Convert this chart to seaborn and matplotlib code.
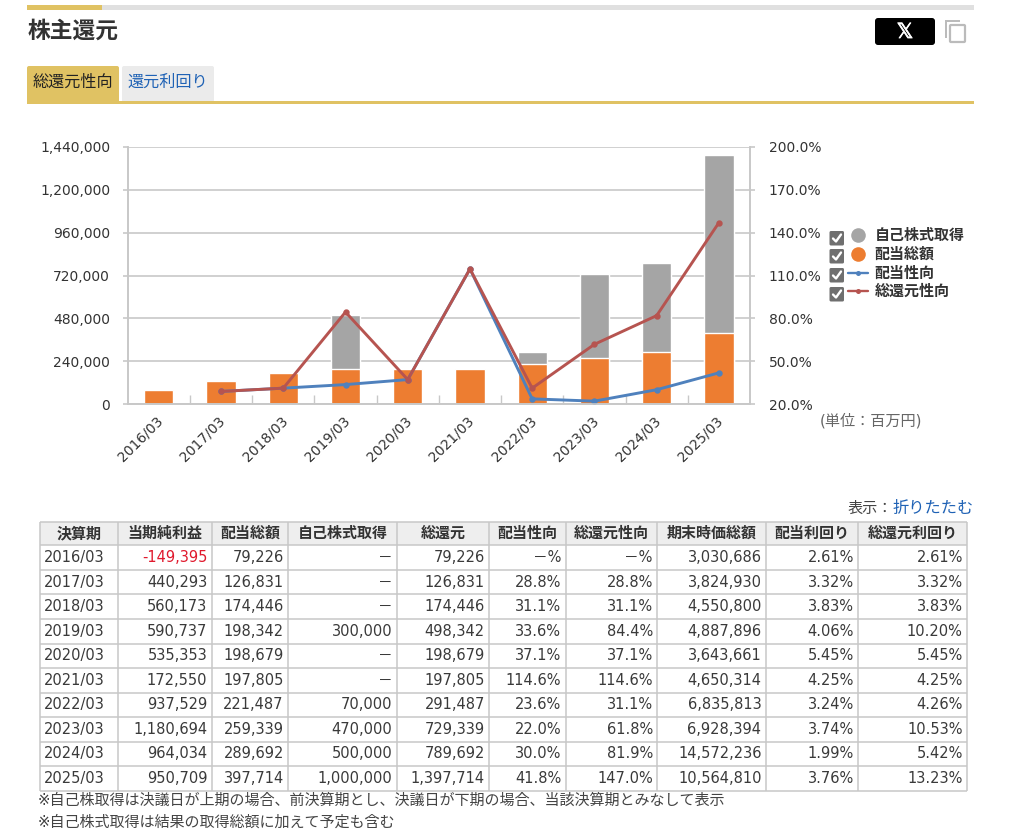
import matplotlib
matplotlib.use("Agg")
import matplotlib.pyplot as plt
import matplotlib.patheffects as pe
import numpy as np
import pandas as pd
import seaborn as sns
from matplotlib.patches import FancyBboxPatch, Rectangle
from matplotlib.transforms import ScaledTranslation

fiscal_years = ["2016/03", "2017/03", "2018/03", "2019/03", "2020/03",
                "2021/03", "2022/03", "2023/03", "2024/03", "2025/03"]
net_income = [-149395, 440293, 560173, 590737, 535353, 172550, 937529, 1180694, 964034, 950709]
dividends = [79226, 126831, 174446, 198342, 198679, 197805, 221487, 259339, 289692, 397714]
buybacks = [None, None, None, 300000, None, None, 70000, 470000, 500000, 1000000]
total_return = [79226, 126831, 174446, 498342, 198679, 197805, 291487, 729339, 789692, 1397714]
payout_ratio = [np.nan, 28.8, 31.1, 33.6, 37.1, 114.6, 23.6, 22.0, 30.0, 41.8]
total_payout = [np.nan, 28.8, 31.1, 84.4, 37.1, 114.6, 31.1, 61.8, 81.9, 147.0]
market_cap = [3030686, 3824930, 4550800, 4887896, 3643661, 4650314, 6835813, 6928394, 14572236, 10564810]
div_yield = [2.61, 3.32, 3.83, 4.06, 5.45, 4.25, 3.24, 3.74, 1.99, 3.76]
total_yield = [2.61, 3.32, 3.83, 10.20, 5.45, 4.25, 4.26, 10.53, 5.42, 13.23]

headers = ["決算期", "当期純利益", "配当総額", "自己株式取得", "総還元",
           "配当性向", "総還元性向", "期末時価総額", "配当利回り", "総還元利回り"]
left_ticks = [0, 240000, 480000, 720000, 960000, 1200000, 1440000]
right_ticks = [20, 50, 80, 110, 140, 170, 200]

GREY = "#a5a5a5"
ORANGE = "#ed7d31"
BLUE = "#4f81bd"
RED = "#b65450"
YELLOW = "#e0c263"
LINE = "#c8c8c8"
TEXT = "#333333"
LINK = "#1f62b5"

sns.set_theme(style="white")
plt.rcParams["font.family"] = ["DejaVu Sans", "Noto Sans CJK JP"]

W, H = 1011, 833
fig = plt.figure(figsize=(W / 100, H / 100), dpi=100, facecolor="white")

# full page layer in pixel coordinates for the page furniture
page = fig.add_axes([0, 0, 1, 1], zorder=0)
page.set_xlim(0, W)
page.set_ylim(H, 0)
page.axis("off")

page.add_patch(Rectangle((27, 5), 947, 5, color="#e0e0e0", lw=0))
page.add_patch(Rectangle((27, 5), 75, 5, color=YELLOW, lw=0))
page.text(28, 31, "株主還元", fontsize=16.4, fontweight="bold", color=TEXT, va="center")

page.add_patch(FancyBboxPatch((27, 66), 92, 38, boxstyle="round,pad=0,rounding_size=2", color=YELLOW, lw=0))
page.add_patch(FancyBboxPatch((122, 66), 92, 36, boxstyle="round,pad=0,rounding_size=2", color="#ebebeb", lw=0))
page.add_patch(Rectangle((27, 101), 947, 3, color=YELLOW, lw=0))
page.text(73, 82, "総還元性向", fontsize=11.6, color="#222222", ha="center", va="center")
page.text(167.5, 82, "還元利回り", fontsize=11.6, color=LINK, ha="center", va="center")

# share buttons
page.add_patch(FancyBboxPatch((875, 18), 60, 27, boxstyle="round,pad=0,rounding_size=3", color="black", lw=0))
page.text(905, 32, "𝕏", fontsize=15, color="white", ha="center", va="center",
          path_effects=[pe.withStroke(linewidth=0.6, foreground="white")])
page.add_patch(Rectangle((945, 20), 15, 1.5, color="#bbbbbb", lw=0))
page.add_patch(Rectangle((945, 20), 1.5, 18, color="#bbbbbb", lw=0))
page.add_patch(FancyBboxPatch((950, 25), 15, 17, boxstyle="round,pad=0,rounding_size=1", fc="white", ec="#bbbbbb", lw=1.6))

# chart
ax = fig.add_axes([127.7 / W, (H - 404) / H, (750 - 127.7) / W, 257 / H], zorder=2)
ax.patch.set_alpha(0)
df = pd.DataFrame({"year": fiscal_years, "dividends": dividends, "total": total_return,
                   "payout": payout_ratio, "total_payout": total_payout})

sns.barplot(data=df, x="year", y="total", color=GREY, saturation=1, width=0.47,
            edgecolor="white", linewidth=1, ax=ax)
sns.barplot(data=df, x="year", y="dividends", color=ORANGE, saturation=1, width=0.47,
            edgecolor="white", linewidth=1, ax=ax)
ax.set_ylim(0, 1440000)
ax.set_yticks(left_ticks)
ax.set_yticklabels([f"{v:,}" for v in left_ticks])
ax.set_xlabel("")
ax.set_ylabel("")
ax.grid(axis="y", color=LINE, linewidth=1.2)
ax.set_axisbelow(True)
ax.tick_params(axis="y", length=3.6, width=1.2, color=LINE, pad=9, labelsize=10, labelcolor=TEXT, left=True)
ax.set_xticks(np.arange(0.5, 9, 1), minor=True)
ax.tick_params(axis="x", which="minor", direction="in", length=6.5, width=1, color=LINE, bottom=True)
ax.tick_params(axis="x", which="major", length=0, pad=7, labelsize=10, labelcolor=TEXT)
plt.setp(ax.get_xticklabels(), rotation=45, ha="right", rotation_mode="anchor")
# the rotated labels sit a little left of the category centre
shift = ScaledTranslation(-3 / 100, 0, fig.dpi_scale_trans)
for label in ax.get_xticklabels():
    label.set_transform(label.get_transform() + shift)

ax2 = ax.twinx()
sns.pointplot(data=df, x="year", y="payout", color=BLUE, markersize=3, linewidth=2.1, errorbar=None, ax=ax2)
sns.pointplot(data=df, x="year", y="total_payout", color=RED, markersize=3, linewidth=2.1, errorbar=None, ax=ax2)
ax2.set_ylim(20, 200)
ax2.set_xlim(-0.5, 9.5)
ax2.set_yticks(right_ticks)
ax2.set_yticklabels([f"{v:.1f}%" for v in right_ticks])
ax2.set_xlabel("")
ax2.set_ylabel("")
ax2.grid(False)
ax2.tick_params(axis="y", length=3.6, width=1.2, color=LINE, pad=10, labelsize=10, labelcolor=TEXT, right=True)
for a in (ax, ax2):
    a.set_xlim(-0.5, 9.5)
    for name, spine in a.spines.items():
        spine.set_visible(name in ("left", "right", "bottom"))
        spine.set_color(LINE)
        spine.set_linewidth(1.2)

# legend, drawn by hand because it has check boxes
legend_names = ["自己株式取得", "配当総額", "配当性向", "総還元性向"]
legend_y = [235, 254, 273, 291]
check_y = [231, 249, 268, 287]
for i, (name, y, cy) in enumerate(zip(legend_names, legend_y, check_y)):
    page.add_patch(FancyBboxPatch((829.5, cy), 14.5, 14.5, boxstyle="round,pad=0,rounding_size=1.5", color="#6f6f6f", lw=0))
    page.plot([833, 836, 841], [cy + 7.5, cy + 10.5, cy + 3.5], color="white", lw=1.7, solid_capstyle="round")
    if i < 2:
        page.plot(857.5, y - 0.5, "o", ms=10.5, color=[GREY, ORANGE][i], mew=0)
    else:
        page.plot([848, 868], [y, y], color=[BLUE, RED][i - 2], lw=1.7)
        page.plot(857.5, y, "o", ms=3.6, color=[BLUE, RED][i - 2], mew=0)
    page.text(874.5, y, name, fontsize=10.8, fontweight="bold", color=TEXT, va="center")
page.text(871, 421, "(単位：百万円)", fontsize=10.9, color="#666666", ha="center", va="center")

page.text(974, 508, "折りたたむ", fontsize=11.7, color=LINK, ha="right", va="center")
page.text(893, 508, "表示：", fontsize=10.9, color="#444444", ha="right", va="center")

# table
col_edges = [39.5, 118.3, 211.7, 288.3, 396.7, 489.3, 565.7, 657.3, 766, 858.3, 967.3]
row_edges = [521.7] + [545.3 + 24.55 * i for i in range(11)]
page.add_patch(Rectangle((col_edges[0], row_edges[0]), col_edges[-1] - col_edges[0],
                         row_edges[1] - row_edges[0], color="#eeeeee", lw=0))
page.vlines(col_edges, row_edges[0], row_edges[-1], color=LINE, lw=1.1)
page.hlines(row_edges, col_edges[0], col_edges[-1], color=LINE, lw=1.1)

for c, name in enumerate(headers):
    page.text((col_edges[c] + col_edges[c + 1]) / 2, (row_edges[0] + row_edges[1]) / 2, name,
              fontsize=10.8, fontweight="bold", color=TEXT, ha="center", va="center")


def money(v):
    return "－" if v is None else f"{v:,}"


def pct(v, digits=1):
    return "－%" if np.isnan(v) else f"{v:.{digits}f}%"


for r, year in enumerate(fiscal_years):
    row = [year, money(net_income[r]), money(dividends[r]), money(buybacks[r]), money(total_return[r]),
           pct(payout_ratio[r]), pct(total_payout[r]), money(market_cap[r]),
           pct(div_yield[r], 2), pct(total_yield[r], 2)]
    y = (row_edges[r + 1] + row_edges[r + 2]) / 2
    for c, cell in enumerate(row):
        color = "#e0192d" if c == 1 and net_income[r] < 0 else "#3a3a3a"
        if c == 0:
            page.text(col_edges[0] + 4.5, y, cell, fontsize=10.5, color=color, ha="left", va="center")
        else:
            page.text(col_edges[c + 1] - 4.5, y, cell, fontsize=10.5, color=color, ha="right", va="center")

page.text(37.5, 800, "※自己株取得は決議日が上期の場合、前決算期とし、決議日が下期の場合、当該決算期とみなして表示",
          fontsize=10.85, color="#444444", va="center")
page.text(37.5, 822, "※自己株式取得は結果の取得総額に加えて予定も含む", fontsize=10.85, color="#444444", va="center")

fig.savefig("out.png", dpi=100)
